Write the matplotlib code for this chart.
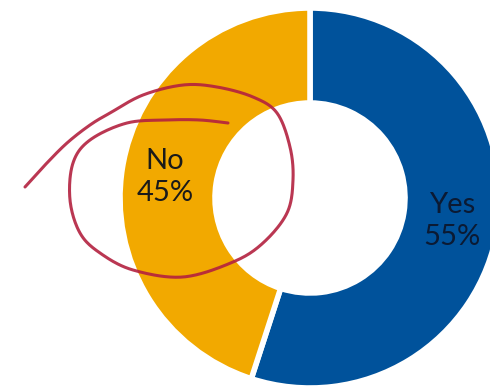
import numpy as np
import matplotlib
matplotlib.use("Agg")
import matplotlib.pyplot as plt

# data
categories = ["Yes", "No"]
shares = [55, 45]
colors = ["#00529B", "#F2A900"]
text_colors = ["#0b1a33", "#1a1a1a"]

W, H = 490, 387
fig = plt.figure(figsize=(W / 100, H / 100), dpi=100)
ax = fig.add_axes([0, 0, 1, 1])

cx, cy, R = 310, H - 198, 190
wedges, _ = ax.pie(shares, colors=colors, startangle=90, counterclock=False,
                   center=(cx, cy), radius=R,
                   wedgeprops=dict(width=R * 0.5, edgecolor="white", linewidth=4))
ax.set_xlim(0, W)
ax.set_ylim(0, H)
ax.set_aspect("equal")
ax.axis("off")

# labels in the middle of each ring segment
label_pos = {"No": (165, 177), "Yes": (452, 221)}
for cat, val, tc in zip(categories, shares, text_colors):
    x, y = label_pos[cat]
    ax.text(x, H - y, f"{cat}\n{val}%", ha="center", va="center",
            fontsize=21, family=["Lato", "DejaVu Sans"], color=tc,
            linespacing=1.3)

# hand-drawn loop around the "No" label (pixel coords, y down)
loop = np.array([
    (25, 187), (45, 165), (67, 143), (90, 125), (110, 113), (143, 95),
    (183, 85), (217, 87), (253, 97), (277, 113), (290, 147), (293, 180),
    (287, 213), (263, 243), (233, 262), (183, 277), (133, 270), (100, 253),
    (80, 233), (70, 200), (73, 163), (90, 140), (127, 123), (167, 120),
    (200, 120), (228, 123),
], dtype=float)


def catmull(pts, n=20):
    p = np.vstack([pts[0], pts, pts[-1]])
    out = []
    for i in range(1, len(p) - 2):
        p0, p1, p2, p3 = p[i - 1], p[i], p[i + 1], p[i + 2]
        for t in np.linspace(0, 1, n, endpoint=False):
            t2, t3 = t * t, t * t * t
            out.append(0.5 * ((2 * p1) + (-p0 + p2) * t
                              + (2 * p0 - 5 * p1 + 4 * p2 - p3) * t2
                              + (-p0 + 3 * p1 - 3 * p2 + p3) * t3))
    out.append(p[-2])
    return np.array(out)


curve = catmull(loop)
ax.plot(curve[:, 0], H - curve[:, 1], color="#B3213F", lw=2.2,
        solid_capstyle="round", alpha=0.9)

fig.savefig("out.png", dpi=100)
